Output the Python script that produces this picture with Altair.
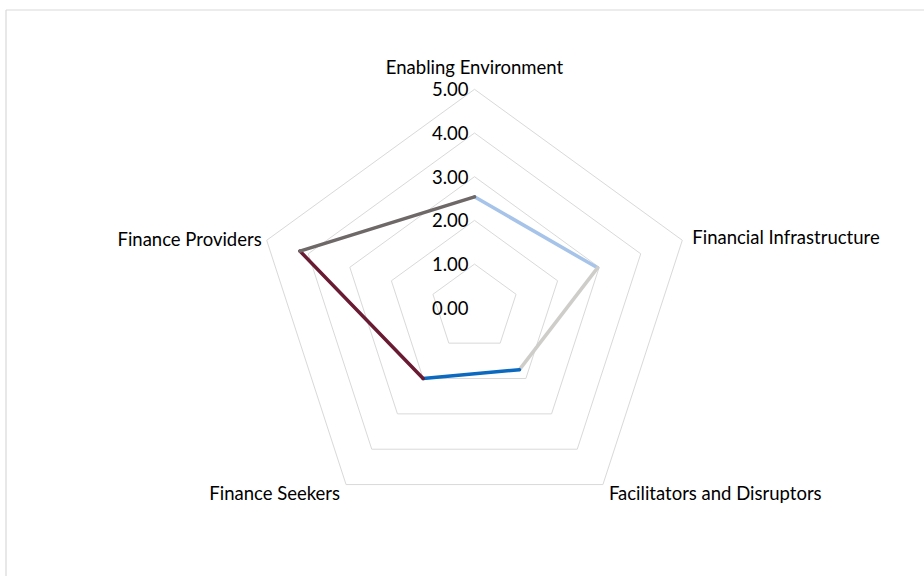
import math
import altair as alt
import pandas as pd

# ---- data ----
categories = ["Enabling Environment", "Financial Infrastructure",
              "Facilitators and Disruptors", "Finance Seekers", "Finance Providers"]
values = [2.54, 2.96, 1.75, 2.0, 4.2]
levels = [1, 2, 3, 4, 5]
tick_values = [0, 1, 2, 3, 4, 5]
tick_labels = ["0.00", "1.00", "2.00", "3.00", "4.00", "5.00"]
segment_colors = ["#a6c3e9", "#cfcdca", "#0b69bf", "#6a1b34", "#6e6868"]

# ---- geometry helpers (polar -> cartesian in data units) ----
n = len(categories)
angles = [2 * math.pi * i / n for i in range(n)]

def px(r, a):
    return r * math.sin(a)

def py(r, a):
    return r * math.cos(a)

W, H = 924, 576
unit = 43.7
cx, cy = 474.5, 307.8
xmin = -cx / unit
xmax = (W - cx) / unit
ymax = cy / unit
ymin = ymax - H / unit

xs = alt.Scale(domain=[xmin, xmax], nice=False, zero=False)
ys = alt.Scale(domain=[ymin, ymax], nice=False, zero=False)

# grid pentagons
grid_rows = []
for lv in levels:
    for k in range(n + 1):
        a = angles[k % n]
        grid_rows.append({"level": lv, "order": k, "x": px(lv, a), "y": py(lv, a)})
grid_df = pd.DataFrame(grid_rows)

grid = alt.Chart(grid_df).mark_line(color="#d9d9d9", strokeWidth=1).encode(
    x=alt.X("x:Q", scale=xs, axis=None),
    y=alt.Y("y:Q", scale=ys, axis=None),
    detail="level:N",
    order="order:Q",
)

# data segments, each with its own colour
seg_rows = []
for i in range(n):
    j = (i + 1) % n
    seg_rows.append({
        "seg": i,
        "x": px(values[i], angles[i]), "y": py(values[i], angles[i]),
        "x2": px(values[j], angles[j]), "y2": py(values[j], angles[j]),
    })
seg_df = pd.DataFrame(seg_rows)

segs = alt.Chart(seg_df).mark_rule(strokeWidth=3.5, strokeCap="round").encode(
    x=alt.X("x:Q", scale=xs, axis=None),
    y=alt.Y("y:Q", scale=ys, axis=None),
    x2="x2:Q",
    y2="y2:Q",
    color=alt.Color("seg:N", scale=alt.Scale(domain=list(range(n)), range=segment_colors), legend=None),
)

FONT = "Lato"
FS = 18.5

# category labels
label_specs = [
    ("center", 0, -21),
    ("left", 10, -2),
    ("left", 6, 9),
    ("right", -6, 9),
    ("right", -5, 0),
]
label_layers = []
for i, cat in enumerate(categories):
    al, dx, dy = label_specs[i]
    d = pd.DataFrame([{"cat": cat, "x": px(5, angles[i]), "y": py(5, angles[i])}])
    label_layers.append(
        alt.Chart(d).mark_text(align=al, baseline="middle", dx=dx, dy=dy,
                               font=FONT, fontSize=FS, color="#000000").encode(
            x=alt.X("x:Q", scale=xs, axis=None),
            y=alt.Y("y:Q", scale=ys, axis=None),
            text="cat:N",
        )
    )

# radial axis tick labels
tick_df = pd.DataFrame({"v": tick_values, "lab": tick_labels, "x": [0.0] * len(tick_values)})
ticks = alt.Chart(tick_df).mark_text(align="right", baseline="middle", dx=-6, dy=1,
                                     font=FONT, fontSize=FS, color="#000000").encode(
    x=alt.X("x:Q", scale=xs, axis=None),
    y=alt.Y("v:Q", scale=ys, axis=None),
    text="lab:N",
)

# chart-area border (top and left edges visible)
border_top = alt.Chart(pd.DataFrame({"a": [0]})).mark_rule(color="#d9d9d9", strokeWidth=1.2).encode(
    x=alt.value(6), x2=alt.value(W), y=alt.value(10))
border_left = alt.Chart(pd.DataFrame({"a": [0]})).mark_rule(color="#d9d9d9", strokeWidth=1.2).encode(
    x=alt.value(6), y=alt.value(10), y2=alt.value(H))

chart = alt.layer(border_top, border_left, grid, segs, ticks, *label_layers).properties(
    width=W, height=H, padding=0, autosize=alt.AutoSizeParams(type="none"),
    background="white",
).configure_view(stroke=None)

chart.save("out.html", embed_options={"renderer": "svg", "actions": False})
